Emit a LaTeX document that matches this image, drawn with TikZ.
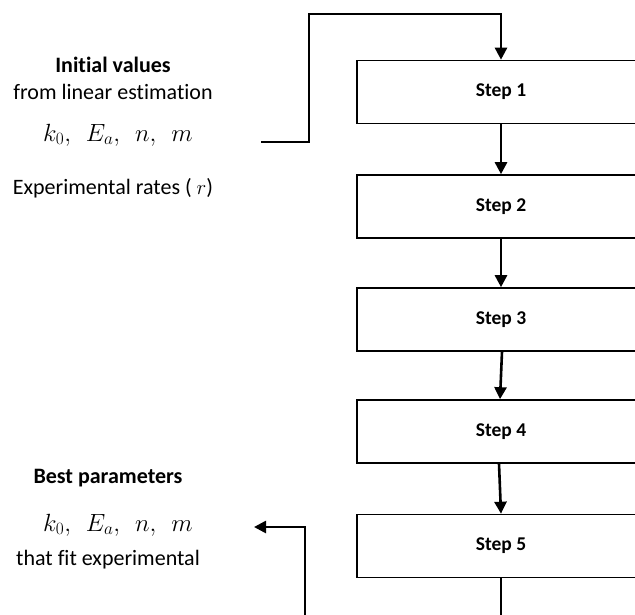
\documentclass[tikz,border=0pt]{standalone}
\usepackage{fontspec}
\setmainfont{Carlito}[RawFeature={-liga}]
\usetikzlibrary{arrows.meta}
\tikzset{
  stepbox/.style={draw, line width=1.6pt, minimum width=288pt, minimum height=63pt, inner sep=0pt, font=\fontsize{19.5}{23}\selectfont\bfseries},
  lbl/.style={inner sep=0pt, font=\fontsize{22}{26}\selectfont},
  mathlbl/.style={inner sep=0pt, font=\fontsize{24}{28}\selectfont},
  conn/.style={line width=2.6pt, -{Triangle[width=12pt,length=12pt]}},
  wire/.style={line width=2.6pt}
}
\begin{document}
\begin{tikzpicture}[x=1pt,y=-1pt]
\useasboundingbox (0,0) rectangle (635,614);
\clip (0,0) rectangle (635,614);
\node[stepbox] (s1) at (501,92) {Step 1};
\node[stepbox] (s2) at (501,206.5) {Step 2};
\node[stepbox] (s3) at (501,319.5) {Step 3};
\node[stepbox] (s4) at (501,431.5) {Step 4};
\node[stepbox] (s5) at (501,546) {Step 5};

\node[lbl, font=\fontsize{22}{26}\selectfont\bfseries] (iv) at (113,65) {Initial values};
\node[lbl] (fl) at (113,92) {from linear estimation};
\node[mathlbl] (p1) at (118,135) {$k_0,\ \ E_a,\ \ n,\ \ m$};
\node[lbl] (er) at (113,188) {Experimental rates ( $r$)};
\node[lbl, font=\fontsize{22}{26}\selectfont\bfseries] (bp) at (108,478) {Best parameters};
\node[mathlbl] (p2) at (118,525) {$k_0,\ \ E_a,\ \ n,\ \ m$};
\node[lbl] (tf) at (108,560) {that fit experimental};

\coordinate (in1) at (261,142);
\coordinate (out1) at (254,527);
\coordinate (bot1) at (305,625);
\coordinate (bot2) at (501,625);

\draw[conn] (in1) -- (309,142) -- (309,14) -- (501,14) -- (s1.north);
\draw[conn] (s1.south) -- (s2.north);
\draw[conn] (s2.south) -- (s3.north);
\draw[conn] ([xshift=1pt]s3.south) -- ([xshift=-1pt]s4.north);
\draw[conn] ([xshift=-2pt]s4.south) -- (s5.north);
\draw[wire] (s5.south) -- (bot2);
\draw[conn] (bot1) -- (305,527) -- (out1);
\end{tikzpicture}
\end{document}
